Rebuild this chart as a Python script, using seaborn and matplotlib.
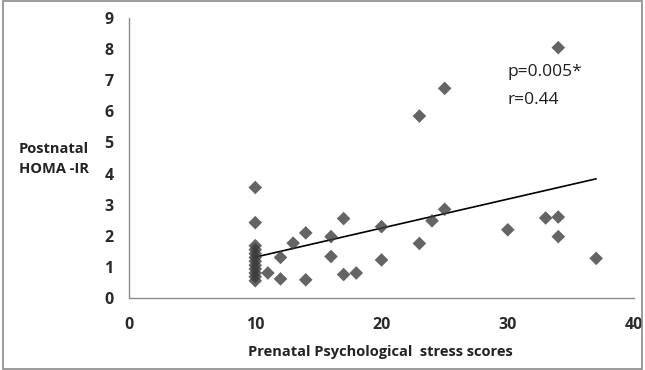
import numpy as np
import pandas as pd
import seaborn as sns
import matplotlib
matplotlib.use("Agg")
import matplotlib.pyplot as plt
from matplotlib.patches import Rectangle

stress = [10, 10, 10, 10, 10, 10, 10, 10, 10, 10, 10, 10,
          11, 12, 12, 13, 14, 14, 16, 16, 17, 17, 18,
          20, 20, 23, 23, 24, 25, 25, 30, 33, 34, 34, 34, 37]
homa = [3.55, 2.42, 1.68, 1.55, 1.42, 1.30, 1.18, 1.05, 0.93, 0.80, 0.68, 0.55,
        0.80, 1.30, 0.61, 1.76, 2.09, 0.58, 1.97, 1.33, 2.55, 0.75, 0.80,
        2.29, 1.22, 5.85, 1.75, 2.48, 6.74, 2.85, 2.19, 2.57, 8.05, 2.60, 1.97, 1.27]

x_ticks = [0, 10, 20, 30, 40]
y_ticks = list(range(0, 10))
x_label = "Prenatal Psychological  stress scores"
y_label = "Postnatal\nHOMA -IR"
annot_p = "p=0.005*"
annot_r = "r=0.44"

df = pd.DataFrame({"stress": stress, "homa": homa})

sns.set_theme(style="white")
plt.rcParams["font.family"] = ["Open Sans", "DejaVu Sans"]

fig = plt.figure(figsize=(6.45, 3.70), dpi=100)
ax = fig.add_axes([0.2, 0.195, 0.783, 0.756])

sns.regplot(data=df, x="stress", y="homa", ax=ax, ci=None, truncate=True,
            marker="D",
            scatter_kws={"s": 48, "color": "#3d3d3d", "edgecolor": "none", "zorder": 3},
            line_kws={"color": "black", "linewidth": 1.2, "zorder": 2})

ax.set_xlim(0, 40)
ax.set_ylim(0, 9)
ax.set_xticks(x_ticks)
ax.set_yticks(y_ticks)
ax.set_xlabel("")
ax.set_ylabel("")
for s in ["top", "right"]:
    ax.spines[s].set_visible(False)
for s in ["left", "bottom"]:
    ax.spines[s].set_color("#8c8c8c")
    ax.spines[s].set_linewidth(1.0)
ax.tick_params(axis="both", which="major", direction="out", length=5, width=1,
               color="#8c8c8c", labelsize=11.5, labelcolor="#2a2a2a", pad=6)
ax.tick_params(axis="x", pad=9)
for lab in ax.get_xticklabels() + ax.get_yticklabels():
    lab.set_fontweight("bold")

fig.text(0.589, 0.048, x_label, ha="center", va="center", fontsize=10.5,
         fontweight="bold", color="#222222")
fig.text(0.084, 0.57, y_label, ha="center", va="center", fontsize=10.5,
         fontweight="bold", color="#222222", linespacing=1.5)
ax.text(30.0, 7.27, annot_p, ha="left", va="center", fontsize=12.5, color="#1e1e1e")
ax.text(30.0, 6.37, annot_r, ha="left", va="center", fontsize=12.5, color="#1e1e1e")

fig.patches.append(Rectangle((0.004, 0.004), 0.992, 0.992, transform=fig.transFigure,
                             fill=False, edgecolor="#8a8a8a", linewidth=1.2))

fig.savefig("out.png", dpi=100, facecolor="white")
